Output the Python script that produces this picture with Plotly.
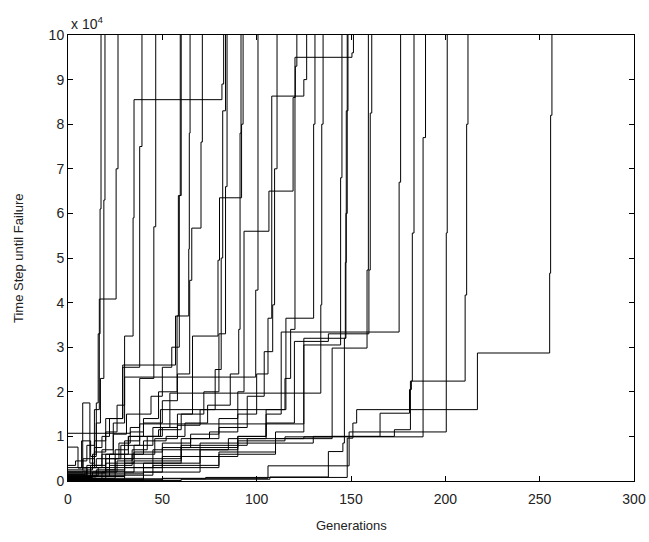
import plotly.graph_objects as go

# Each run: generations (step positions) and time steps until failure
gen_s01 = [0, 6, 10, 13, 15, 16, 17, 17.5]
val_s01 = [500, 1000, 2500, 6000, 17500, 33000, 61000, 100000]
gen_s02 = [0, 5.3, 7.2, 12, 15, 17.2, 19, 19.6]
val_s02 = [7600, 2900, 9000, 5500, 13000, 23000, 63000, 100000]
gen_s03 = [0, 4, 10, 14, 16.6, 25.5, 26.5]
val_s03 = [3500, 4500, 8000, 16000, 40800, 70000, 100000]
gen_s04 = [0, 7.8, 11.6, 14, 18, 22, 29, 38, 39.2]
val_s04 = [2500, 17500, 4000, 7500, 10000, 14000, 25500, 75000, 100000]
gen_s05 = [0, 12, 18, 24, 31, 38, 45.5, 46.5]
val_s05 = [1000, 3500, 6000, 10500, 15000, 23000, 57000, 100000]
gen_s06 = [0, 9, 14, 20, 26, 30, 34.5, 35, 81.6, 82.5]
val_s06 = [1500, 3000, 6500, 11000, 17000, 32500, 59000, 85500, 89000, 100000]
gen_s07 = [0, 8, 14, 20, 29, 57, 58.5, 59.5]
val_s07 = [2000, 5000, 9000, 14000, 26000, 37000, 64000, 100000]
gen_s08 = [0, 13, 20, 27, 33, 40, 48, 57.8, 64, 64.3, 64.7]
val_s08 = [800, 2000, 5000, 8500, 11000, 14000, 20000, 37000, 52000, 78000, 100000]
gen_s09 = [0, 16, 25, 32, 40, 50, 58, 64.5, 65.6, 70.5, 71.2]
val_s09 = [1200, 3000, 7000, 10000, 13000, 18000, 24000, 45000, 56700, 76000, 100000]
gen_s10 = [0, 18, 26, 34, 42, 50, 58, 66, 79.5, 80.3, 92, 92.8]
val_s10 = [200, 2000, 4500, 7000, 10000, 12000, 15000, 32500, 49500, 63500, 80000, 100000]
gen_s11 = [0, 20, 30, 40, 52, 62, 74, 86, 90.5, 91.2, 91.7]
val_s11 = [500, 2500, 6000, 9000, 10000, 13000, 17000, 24000, 34000, 78000, 100000]
gen_s12 = [0, 22, 34, 46, 58, 70, 78, 81.2, 82, 83.5]
val_s12 = [1000, 3500, 6000, 9500, 12500, 16000, 25000, 50000, 83000, 100000]
gen_s13 = [0, 15, 28, 38, 48, 60, 72, 80, 83.5, 84.3]
val_s13 = [3000, 5000, 8000, 10000, 11500, 15000, 20000, 33000, 66000, 100000]
gen_s14 = [0, 10, 18, 24, 30, 99.5, 100.7]
val_s14 = [400, 3000, 7000, 13000, 23300, 42800, 100000]
gen_s15 = [0, 20, 35, 50, 65, 80, 90, 93.3, 106.5, 119.3, 120.5, 121.3]
val_s15 = [1800, 4000, 6500, 8500, 10500, 14000, 20000, 56000, 65000, 86000, 93000, 100000]
gen_s16 = [0, 25, 45, 60, 75, 90, 100, 106, 108, 125, 126.5]
val_s16 = [600, 3000, 7000, 9500, 11000, 15000, 24000, 36500, 86300, 90000, 100000]
gen_s17 = [0, 30, 50, 65, 80, 95, 104, 108.5, 109.5, 110.8]
val_s17 = [1000, 3000, 7500, 9500, 12000, 19000, 29000, 39500, 70000, 100000]
gen_s18 = [0, 30, 50, 70, 90, 105, 115, 118, 120.3, 150.5, 151.3]
val_s18 = [300, 2000, 5500, 8500, 10000, 16000, 23000, 34000, 95000, 96000, 100000]
gen_s19 = [0, 12, 22, 32, 49, 115.5, 130.2, 130.9]
val_s19 = [700, 3000, 6000, 10000, 16000, 36500, 80000, 100000]
gen_s20 = [0, 15, 25, 35, 45, 54, 134, 134.5, 135.2]
val_s20 = [900, 2500, 5000, 8000, 12000, 19700, 39500, 80000, 100000]
gen_s21 = [0, 10, 20, 30, 38, 125, 144.5, 145.2]
val_s21 = [1400, 3500, 6000, 9000, 12800, 30500, 68000, 100000]
gen_s22 = [0, 40, 70, 90, 110, 125, 147, 147.5, 148.4]
val_s22 = [400, 2000, 5500, 8500, 11000, 32000, 49000, 83000, 100000]
gen_s23 = [0, 35, 60, 85, 105, 120, 138, 159.5, 160.2, 161]
val_s23 = [2000, 4500, 7000, 9500, 13000, 31300, 33000, 47300, 82500, 100000]
gen_s24 = [0, 30, 60, 90, 115, 140, 158.5, 159.2]
val_s24 = [1100, 4000, 7500, 9000, 9900, 29800, 47300, 100000]
gen_s25 = [0, 40, 70, 90, 105, 113, 175.5, 176.3]
val_s25 = [1600, 4000, 7000, 10000, 15000, 33400, 67000, 100000]
gen_s26 = [0, 40, 80, 110, 130, 165.4, 181, 182, 210.5, 211.3, 212]
val_s26 = [600, 3000, 6000, 8500, 10000, 15200, 20500, 22400, 41700, 80000, 100000]
gen_s27 = [0, 45, 80, 110, 140, 173, 181.5, 182.5, 183.4]
val_s27 = [1300, 3500, 6500, 9500, 10000, 11500, 22400, 55600, 100000]
gen_s28 = [0, 30, 60, 95, 125, 188.2, 189.5]
val_s28 = [2200, 5000, 8000, 9500, 9900, 77000, 100000]
gen_s29 = [0, 40, 73, 148, 149, 200.5, 201]
val_s29 = [200, 500, 800, 9600, 11000, 55600, 100000]
gen_s30 = [0, 50, 106, 149, 151, 153, 217, 255.3, 255.8, 256.5]
val_s30 = [300, 600, 3400, 9600, 13000, 16000, 28700, 46600, 82000, 100000]
gen_s31 = [0, 60, 107, 138, 145.7, 146.5, 147.3, 148]
val_s31 = [100, 400, 900, 6600, 8500, 32000, 60000, 100000]
gen_s32 = [0, 33, 38, 44, 50, 55, 59, 60]
val_s32 = [10700, 12000, 15000, 19000, 25500, 30000, 64000, 100000]

runs = [
    (gen_s01, val_s01), (gen_s02, val_s02), (gen_s03, val_s03), (gen_s04, val_s04),
    (gen_s05, val_s05), (gen_s06, val_s06), (gen_s07, val_s07), (gen_s08, val_s08),
    (gen_s09, val_s09), (gen_s10, val_s10), (gen_s11, val_s11), (gen_s12, val_s12),
    (gen_s13, val_s13), (gen_s14, val_s14), (gen_s15, val_s15), (gen_s16, val_s16),
    (gen_s17, val_s17), (gen_s18, val_s18), (gen_s19, val_s19), (gen_s20, val_s20),
    (gen_s21, val_s21), (gen_s22, val_s22), (gen_s23, val_s23), (gen_s24, val_s24),
    (gen_s25, val_s25), (gen_s26, val_s26), (gen_s27, val_s27), (gen_s28, val_s28),
    (gen_s29, val_s29), (gen_s30, val_s30), (gen_s31, val_s31), (gen_s32, val_s32),
]

x_ticks = [0, 50, 100, 150, 200, 250, 300]
y_ticks = [0, 10000, 20000, 30000, 40000, 50000, 60000, 70000, 80000, 90000, 100000]
y_tick_labels = ["0", "1", "2", "3", "4", "5", "6", "7", "8", "9", "10"]

FONT = "Liberation Sans, Arial, Helvetica, sans-serif"
TXT = "#222222"

fig = go.Figure()
for g, v in runs:
    fig.add_trace(go.Scatter(
        x=g, y=v, mode="lines", line=dict(color="black", width=1, shape="hv"),
        showlegend=False, hoverinfo="skip",
    ))

axis_common = dict(
    showgrid=False, zeroline=False, showline=True, linecolor="black", linewidth=1,
    mirror="ticks", ticks="inside", ticklen=5, tickcolor="black", tickwidth=1,
    tickfont=dict(family=FONT, size=14, color=TXT), automargin=False,
)

fig.update_layout(
    width=649, height=542,
    margin=dict(l=68, r=15, t=35, b=61, autoexpand=False),
    paper_bgcolor="white", plot_bgcolor="white",
    font=dict(family=FONT, color=TXT),
    xaxis=dict(range=[0, 300], tickvals=x_ticks, ticklabelstandoff=5, **axis_common),
    yaxis=dict(range=[0, 100000], tickvals=y_ticks, ticktext=y_tick_labels, **axis_common),
    annotations=[
        dict(text="x 10<sup>4</sup>", xref="paper", yref="paper", x=0, y=1,
             xanchor="left", yanchor="bottom", showarrow=False, xshift=1, yshift=1,
             font=dict(family=FONT, size=14, color=TXT)),
        dict(text="Generations", xref="paper", yref="paper", x=0.5, y=0,
             xanchor="center", yanchor="middle", showarrow=False, yshift=-44,
             font=dict(family=FONT, size=13, color=TXT)),
        dict(text="Time Step until Failure", xref="paper", yref="paper", x=0, y=0.5,
             xanchor="center", yanchor="middle", showarrow=False, xshift=-50, textangle=-90,
             font=dict(family=FONT, size=13, color=TXT)),
    ],
)

fig.write_html(
    "out.html",
    config={"displayModeBar": False},
    post_script="document.body.style.margin='0';document.body.style.overflow='hidden';",
)
